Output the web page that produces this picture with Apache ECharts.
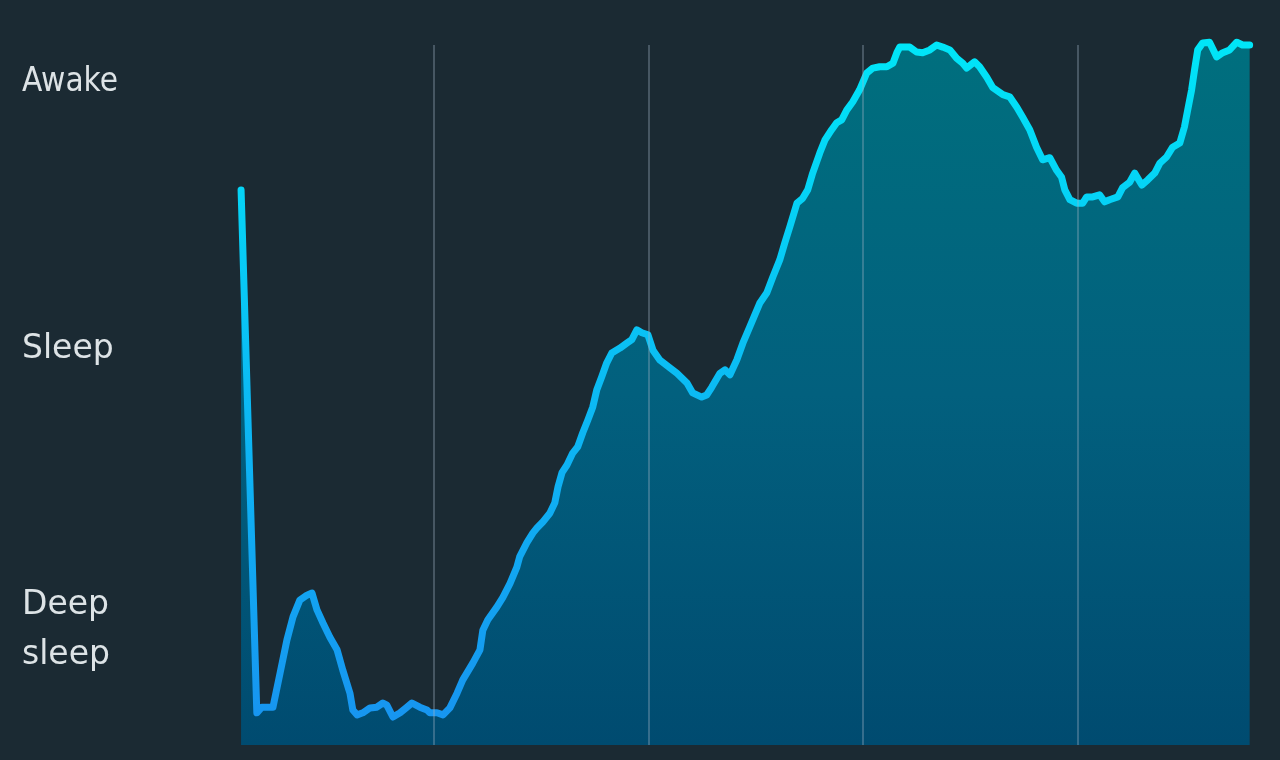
<!DOCTYPE html>
<html>
<head>
<meta charset="utf-8">
<script src="https://cdn.jsdelivr.net/npm/echarts@6/dist/echarts.min.js"></script>
<style>
  html, body { margin: 0; padding: 0; background: #1b2a33; }
  #chart { width: 1280px; height: 760px; }
</style>
</head>
<body>
<div id="chart"></div>
<script>
// Sleep depth trace: minutes since start vs. level (0 = deepest, 100 = awake)
const minutes = [0.3, 4.7, 6.1, 8.4, 9.2, 11.2, 13.1, 14.8, 16.7, 18.7, 20.1, 21.5, 23.2, 25.1, 27.1, 28.7, 30.7, 31.5,
  32.7, 34.3, 36.3, 38.2, 39.9, 41.0, 42.7, 44.7, 46.6, 48.0, 50.2, 52.2, 53.0, 55.0, 56.7, 58.6, 60.6, 62.2,
  65.0, 67.0, 67.8, 69.2, 71.7, 73.4, 75.4, 77.3, 78.1, 80.1, 81.8, 82.9, 84.6, 86.5, 87.9, 88.8, 89.9, 91.3,
  92.9, 94.3, 95.7, 97.1, 98.5, 99.6, 101.0, 102.4, 103.8, 106.1, 108.0, 109.4, 110.8, 112.2, 113.9, 115.3,
  117.2, 120.0, 122.0, 124.8, 126.4, 128.9, 130.3, 131.7, 134.0, 135.4, 136.8, 138.7, 140.4, 142.3, 145.1,
  147.1, 148.8, 150.7, 152.1, 153.5, 155.5, 157.1, 158.5, 159.9, 161.9, 163.3, 165.2, 166.6, 168.0, 169.4,
  171.1, 173.0, 175.0, 176.7, 178.6, 180.6, 182.3, 183.4, 184.2, 187.0, 188.9, 190.6, 192.6, 194.5, 196.2,
  198.2, 200.1, 201.8, 202.9, 205.1, 206.5, 208.5, 210.2, 213.0, 214.9, 216.9, 218.5, 220.5, 222.4, 224.1,
  226.1, 228.0, 229.4, 230.3, 231.7, 233.6, 235.3, 236.4, 238.1, 240.0, 241.4, 242.8, 245.1, 246.4, 248.4,
  249.8, 251.8, 253.4, 255.4, 256.8, 258.7, 260.4, 262.4, 263.7, 264.6, 265.7, 266.5, 267.4, 268.8, 270.7,
  272.7, 274.4, 276.3, 278.3, 279.9, 281.9];
const depth = [79.3, 4.6, 5.4, 5.4, 5.4, 10.3, 15.0, 18.3, 20.7, 21.4, 21.7, 19.3, 17.4, 15.4, 13.6, 10.7, 7.4, 5.0,
  4.3, 4.6, 5.3, 5.4, 6.0, 5.7, 4.0, 4.6, 5.4, 6.0, 5.4, 5.0, 4.6, 4.6, 4.3, 5.3, 7.4, 9.3,
  11.7, 13.6, 16.4, 17.9, 19.7, 21.1, 23.1, 25.4, 26.9, 28.9, 30.3, 31.0, 31.9, 33.1, 34.6, 36.9, 38.9, 40.0,
  41.7, 42.6, 44.6, 46.4, 48.3, 50.7, 52.6, 54.6, 56.0, 56.7, 57.4, 57.9, 59.3, 58.9, 58.6, 56.4,
  55.0, 53.9, 53.1, 51.7, 50.3, 49.7, 50.0, 51.1, 53.1, 53.6, 52.9, 55.0, 57.4, 59.7, 63.1,
  64.6, 66.9, 69.3, 71.7, 74.0, 77.4, 78.1, 79.3, 81.7, 84.6, 86.4, 87.9, 88.9, 89.3, 90.7,
  91.9, 93.6, 96.0, 96.7, 96.9, 96.9, 97.4, 98.9, 99.7, 99.7, 99.0, 98.9, 99.3, 100.0, 99.7,
  99.3, 98.1, 97.4, 96.7, 97.6, 96.9, 95.4, 93.9, 92.9, 92.6, 91.1, 89.7, 87.9, 85.4, 83.6,
  83.9, 82.1, 81.1, 79.3, 77.9, 77.4, 77.4, 78.3, 78.3, 78.6, 77.6, 77.9, 78.3, 79.6, 80.4,
  81.7, 80.0, 80.7, 81.7, 83.1, 84.0, 85.4, 86.0, 88.3, 90.7, 93.6, 96.4, 99.3, 100.3, 100.4,
  98.3, 98.9, 99.3, 100.4, 100.0, 100.0];
// Hour gridlines (minutes since start)
const hourMarks = [54, 114, 174, 234];
// Stage labels
const stageLabels = ['Awake', 'Sleep', 'Deep\nsleep'];

const chart = echarts.init(document.getElementById('chart'), null, { renderer: 'canvas' });
const seriesData = minutes.map((m, i) => [m, depth[i]]);

const labelFont = { fontFamily: 'DejaVu Sans', fontSize: 33, fill: '#dde3e6', lineHeight: 50 };

chart.setOption({
  backgroundColor: '#1b2a33',
  animation: false,
  grid: { left: 240, right: 30, top: 45, bottom: 15 },
  xAxis: { type: 'value', min: 0, max: 282, show: false },
  yAxis: { type: 'value', min: 0, max: 100, show: false },
  graphic: [
    { type: 'text', left: 22, top: 57, scaleX: 0.9, style: Object.assign({ text: stageLabels[0] }, labelFont) },
    { type: 'text', left: 22, top: 324, style: Object.assign({ text: stageLabels[1] }, labelFont) },
    { type: 'text', left: 22, top: 580, style: Object.assign({ text: stageLabels[2] }, labelFont) }
  ],
  series: [{
    type: 'line',
    data: seriesData,
    showSymbol: false,
    clip: false,
    smooth: false,
    lineStyle: {
      width: 7,
      cap: 'round',
      join: 'round',
      color: new echarts.graphic.LinearGradient(0, 0, 0, 1, [
        { offset: 0, color: '#00e6f8' },
        { offset: 0.5, color: '#0bbcf4' },
        { offset: 1, color: '#1795f0' }
      ])
    },
    areaStyle: {
      origin: 'start',
      opacity: 1,
      color: new echarts.graphic.LinearGradient(0, 0, 0, 1, [
        { offset: 0, color: '#006f7e' },
        { offset: 0.5, color: '#02607e' },
        { offset: 1, color: '#004b70' }
      ])
    },
    markLine: {
      silent: true,
      symbol: ['none', 'none'],
      label: { show: false },
      lineStyle: { color: 'rgba(160,180,195,0.45)', width: 1.5, type: 'solid' },
      data: hourMarks.map(h => ({ xAxis: h }))
    }
  }]
});
</script>
</body>
</html>
